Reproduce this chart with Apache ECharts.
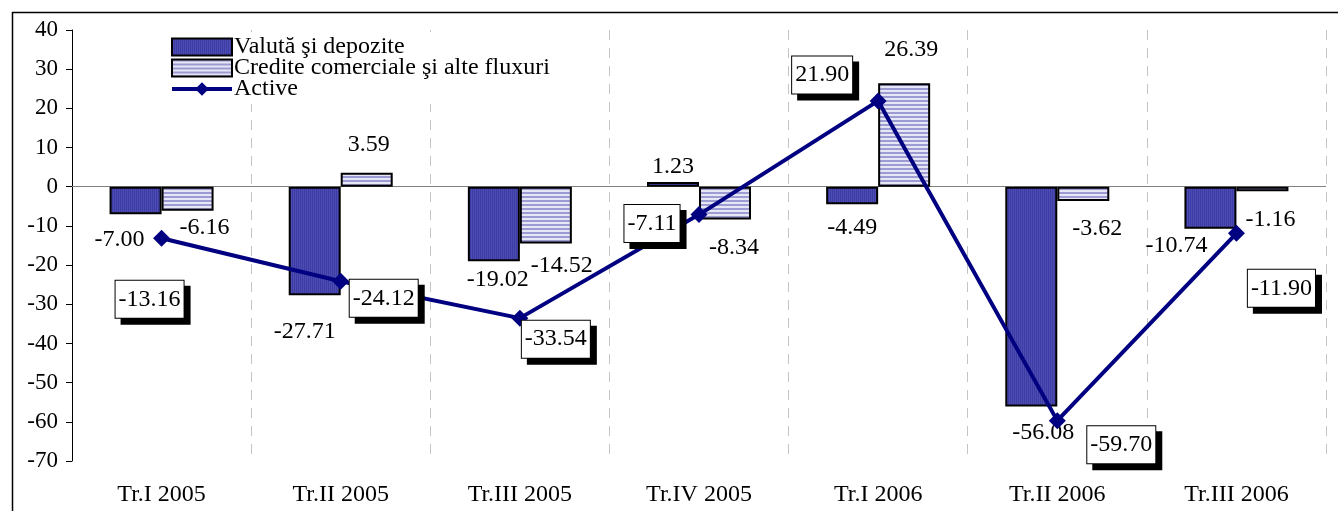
<!DOCTYPE html>
<html>
<head>
<meta charset="utf-8">
<script src="https://cdn.jsdelivr.net/npm/echarts@6/dist/echarts.min.js"></script>
<style>
  html, body { margin: 0; padding: 0; background: #fff; }
  #main { width: 1338px; height: 511px; }
</style>
</head>
<body>
<div id="main"></div>
<script>
    var categories = ['Tr.I 2005', 'Tr.II 2005', 'Tr.III 2005', 'Tr.IV 2005', 'Tr.I 2006', 'Tr.II 2006', 'Tr.III 2006']
    var valuta = [-7.00, -27.71, -19.02, 1.23, -4.49, -56.08, -10.74]
    var credite = [-6.16, 3.59, -14.52, -8.34, 26.39, -3.62, -1.16]
    var active = [-13.16, -24.12, -33.54, -7.11, 21.90, -59.70, -11.90]
    var yTicks = [-70, -60, -50, -40, -30, -20, -10, 0, 10, 20, 30, 40]

    // label nudges (px), like the hand-moved labels of the original
    var valutaOffsets = [[-16, 14], [-10, 24], [4, 6], [0, -3], [0, 11], [12, 14], [-34, 5]]
    var crediteOffsets = [[17, 5], [2, -16], [16, 10], [9, 16], [7, -22], [14, 16], [8, 16]]
    var activeOffsets = [[-12, 61], [43, 17], [36, 21], [-47, 9], [-56, -26], [64, 24], [45, 55]]

    var font = 'Liberation Serif'

    function stripes() {
        var c = document.createElement('canvas')
        c.width = 4
        c.height = 4
        var ctx = c.getContext('2d')
        ctx.fillStyle = '#e6e6f6'
        ctx.fillRect(0, 0, 4, 4)
        ctx.fillStyle = '#9c9cd2'
        ctx.fillRect(0, 0, 4, 2)
        return c
    }
    function dots() {
        var c = document.createElement('canvas')
        c.width = 2
        c.height = 2
        var ctx = c.getContext('2d')
        ctx.fillStyle = '#4c4cb2'
        ctx.fillRect(0, 0, 2, 2)
        ctx.fillStyle = '#3c3ca4'
        ctx.fillRect(0, 0, 1, 2)
        return c
    }

    function barData(values, offsets) {
        return values.map(function (v, i) {
            return {
                value: v,
                label: {offset: offsets[i]}
            }
        })
    }

    var barLabel = {
        show: true,
        position: 'outside',
        distance: 0,
        fontFamily: font,
        fontSize: 24,
        color: '#000',
        formatter: function (p) { return p.value.toFixed(2) }
    }

    var chart = echarts.init(document.getElementById('main'))
    chart.setOption({
        animation: false,
        textStyle: {fontFamily: font},
        graphic: [{
            type: 'rect',
            left: 10,
            top: 10,
            shape: {width: 1340, height: 520},
            style: {fill: 'none', stroke: '#000', lineWidth: 1.5},
            silent: true,
            z: -1
        }],
        grid: {left: 72, right: 12, top: 30, bottom: 50},
        legend: {
            orient: 'vertical',
            left: 167,
            top: 32,
            padding: 3,
            backgroundColor: '#fff',
            itemWidth: 60,
            itemHeight: 17,
            itemGap: -3,
            textStyle: {fontFamily: font, fontSize: 24, color: '#000', padding: [0, 0, 0, -3]},
            data: [
                {name: 'Valută şi depozite', icon: 'rect'},
                {name: 'Credite comerciale şi alte fluxuri', icon: 'rect'},
                {name: 'Active', lineStyle: {width: 4, color: '#000080'}}
            ],
            z: 10
        },
        xAxis: {
            type: 'category',
            data: categories,
            boundaryGap: true,
            axisLine: {show: false, onZero: false},
            axisTick: {show: false},
            axisLabel: {fontFamily: font, fontSize: 24, color: '#000', margin: 22},
            splitLine: {show: true, lineStyle: {color: '#c4c4c4', type: [10, 8], width: 1}}
        },
        yAxis: {
            type: 'value',
            min: yTicks[0],
            max: yTicks[yTicks.length - 1],
            interval: 10,
            axisLine: {show: true, lineStyle: {color: '#000', width: 1}},
            axisTick: {show: true, inside: false, length: 6, lineStyle: {color: '#000'}},
            axisLabel: {fontFamily: font, fontSize: 23, color: '#000', margin: 14},
            splitLine: {show: false}
        },
        series: [
            {
                name: 'Valută şi depozite',
                type: 'bar',
                barWidth: 52,
                barGap: '0%',
                data: barData(valuta, valutaOffsets),
                itemStyle: {color: {image: dots(), repeat: 'repeat'}, borderColor: '#000', borderWidth: 2},
                label: barLabel,
                markLine: {
                    silent: true,
                    symbol: 'none',
                    label: {show: false},
                    lineStyle: {color: '#808080', type: 'solid', width: 1},
                    data: [{yAxis: 0}],
                    z: 1
                }
            },
            {
                name: 'Credite comerciale şi alte fluxuri',
                type: 'bar',
                barWidth: 52,
                barGap: '0%',
                data: barData(credite, crediteOffsets),
                itemStyle: {color: {image: stripes(), repeat: 'repeat'}, borderColor: '#000', borderWidth: 2},
                label: barLabel
            },
            {
                name: 'Active',
                type: 'line',
                z: 5,
                data: active.map(function (v, i) {
                    return {value: v, label: {offset: activeOffsets[i]}}
                }),
                symbol: 'diamond',
                symbolSize: 17,
                lineStyle: {color: '#000080', width: 4},
                itemStyle: {color: '#000080'},
                label: {
                    show: true,
                    position: 'inside',
                    fontFamily: font,
                    fontSize: 24,
                    color: '#000',
                    backgroundColor: '#fff',
                    borderColor: '#000',
                    borderWidth: 1,
                    padding: [7, 3, 6, 3],
                    shadowColor: '#000',
                    shadowBlur: 0,
                    shadowOffsetX: 6,
                    shadowOffsetY: 6,
                    formatter: function (p) { return p.value.toFixed(2) }
                }
            }
        ]
    })
</script>
</body>
</html>
